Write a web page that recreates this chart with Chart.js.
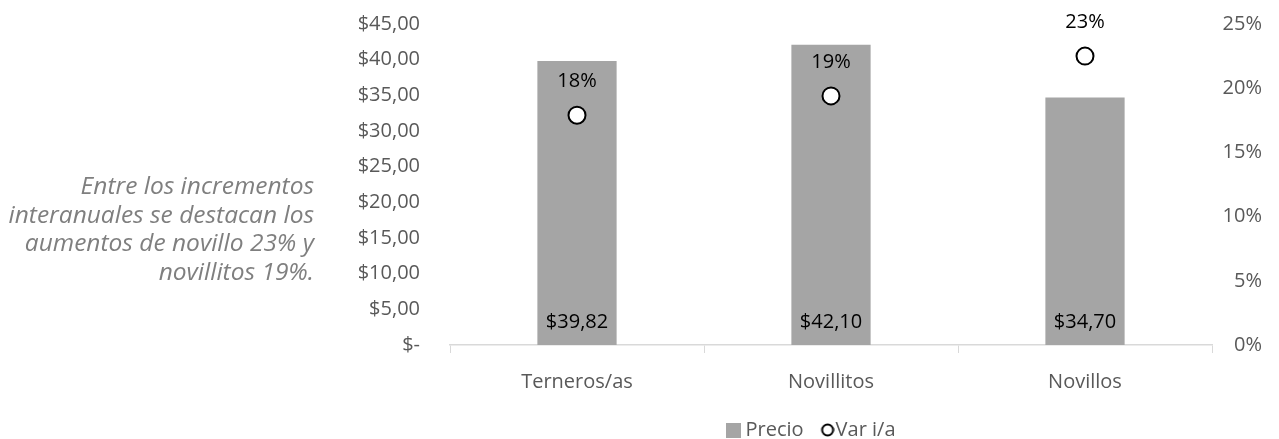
<!DOCTYPE html>
<html>
<head>
<meta charset="utf-8">
<script src="https://cdn.jsdelivr.net/npm/chart.js@4.4.0/dist/chart.umd.min.js"></script>
<style>
  html, body { margin: 0; padding: 0; background: #fff; }
  #wrap { position: relative; width: 1279px; height: 439px; }
  #nota {
    position: absolute; right: 965px; top: 171px; width: 340px;
    font-family: "Open Sans", sans-serif; font-style: italic; font-size: 24.5px;
    line-height: 28.7px; color: #7f7f7f; text-align: right; white-space: nowrap;
  }
</style>
</head>
<body>
<div id="wrap">
  <canvas id="chart" width="1279" height="439"></canvas>
  <div id="nota">Entre los incrementos<br>interanuales se destacan los<br>aumentos de novillo 23% y<br>novillitos 19%.</div>
</div>
<script>
// datos del gráfico
const categorias = ['Terneros/as', 'Novillitos', 'Novillos'];
const precios = [39.82, 42.10, 34.70];
const variacion = [0.179, 0.194, 0.225];
const etiquetasVar = ['18%', '19%', '23%'];
const ticksPrecio = [0, 5, 10, 15, 20, 25, 30, 35, 40, 45];

const FUENTE = '"Open Sans", sans-serif';
const GRIS_TEXTO = '#595959';

function formatoPrecio(v) {
    if (v === 0) return '$-';
    return '$' + v.toFixed(2).replace('.', ',');
}

// íconos de la leyenda
function iconoCuadrado() {
    const c = document.createElement('canvas');
    c.width = 15; c.height = 15;
    const g = c.getContext('2d');
    g.fillStyle = '#a5a5a5';
    g.fillRect(0, 0, 15, 15);
    return c;
}
function iconoCirculo() {
    // círculo pegado a la derecha para que quede junto al texto
    const c = document.createElement('canvas');
    c.width = 23; c.height = 14;
    const g = c.getContext('2d');
    g.beginPath();
    g.arc(16, 7, 5.5, 0, Math.PI * 2);
    g.fillStyle = '#fff';
    g.fill();
    g.lineWidth = 2;
    g.strokeStyle = '#000';
    g.stroke();
    return c;
}

// etiquetas de datos
const etiquetas = {
    id: 'etiquetas',
    afterDatasetsDraw(chart) {
        const ctx = chart.ctx;
        ctx.save();
        ctx.font = '20px ' + FUENTE;
        ctx.fillStyle = '#000';
        ctx.textAlign = 'center';
        ctx.textBaseline = 'middle';
        chart.getDatasetMeta(1).data.forEach((bar, i) => {
            ctx.fillText(formatoPrecio(precios[i]), bar.x, chart.scales.y.getPixelForValue(0) - 23);
        });
        chart.getDatasetMeta(0).data.forEach((pt, i) => {
            ctx.fillText(etiquetasVar[i], pt.x, pt.y - 34);
        });
        ctx.restore();
    }
};

// la leyenda va corrida a la derecha, como en el original
const moverLeyenda = {
    id: 'moverLeyenda',
    afterLayout(chart) {
        const dx = 182;
        chart.legend.left += dx;
        chart.legend.right += dx;
    }
};

const sinPaddingVertical = s => { s.paddingTop = 0; s.paddingBottom = 0; };

const ctx = document.getElementById('chart').getContext('2d');
new Chart(ctx, {
    data: {
        labels: categorias,
        datasets: [
            {
                type: 'line',
                label: 'Var i/a',
                data: variacion,
                yAxisID: 'y1',
                showLine: false,
                pointRadius: 8.5,
                pointBorderWidth: 2,
                pointBackgroundColor: '#fff',
                pointBorderColor: '#000',
                order: 0
            },
            {
                type: 'bar',
                label: 'Precio',
                data: precios,
                yAxisID: 'y',
                backgroundColor: '#a5a5a5',
                barPercentage: 0.312,
                categoryPercentage: 1,
                order: 1
            }
        ]
    },
    options: {
        responsive: false,
        animation: false,
        layout: { padding: { left: 0, right: 17, top: 24, bottom: -11 } },
        plugins: {
            tooltip: { enabled: false },
            legend: {
                position: 'bottom',
                labels: {
                    font: { family: FUENTE, size: 20 },
                    color: GRIS_TEXTO,
                    usePointStyle: true,
                    boxWidth: 5,
                    boxHeight: 15,
                    padding: 17,
                    generateLabels: () => [
                        { text: 'Precio', pointStyle: iconoCuadrado(), fontColor: GRIS_TEXTO, lineWidth: 0, strokeStyle: 'transparent', datasetIndex: 1 },
                        { text: 'Var i/a', pointStyle: iconoCirculo(), fontColor: GRIS_TEXTO, lineWidth: 0, strokeStyle: 'transparent', datasetIndex: 0 }
                    ]
                }
            }
        },
        scales: {
            x: {
                grid: { offset: true, drawOnChartArea: false, drawTicks: true, tickLength: 8, color: '#d9d9d9' },
                border: { display: true, color: '#d9d9d9', width: 1.5 },
                ticks: { font: { family: FUENTE, size: 20 }, color: GRIS_TEXTO, padding: 17 },
                afterFit: s => { s.height = 58; }
            },
            y: {
                position: 'left',
                min: 0, max: 45,
                afterBuildTicks: s => { s.ticks = ticksPrecio.map(v => ({ value: v })); },
                grid: { display: false },
                border: { display: false },
                ticks: { font: { family: FUENTE, size: 20 }, color: GRIS_TEXTO, padding: 22, callback: v => formatoPrecio(v) },
                afterFit: s => { s.width = 450; sinPaddingVertical(s); }
            },
            y1: {
                position: 'right',
                min: 0, max: 0.25,
                grid: { display: false },
                border: { display: false },
                ticks: {
                    stepSize: 0.05, crossAlign: 'far',
                    font: { family: FUENTE, size: 20 }, color: GRIS_TEXTO, padding: 8,
                    callback: v => Math.round(v * 100) + '%'
                },
                afterFit: s => { s.width = 50; sinPaddingVertical(s); }
            }
        }
    },
    plugins: [etiquetas, moverLeyenda]
});
</script>
</body>
</html>
